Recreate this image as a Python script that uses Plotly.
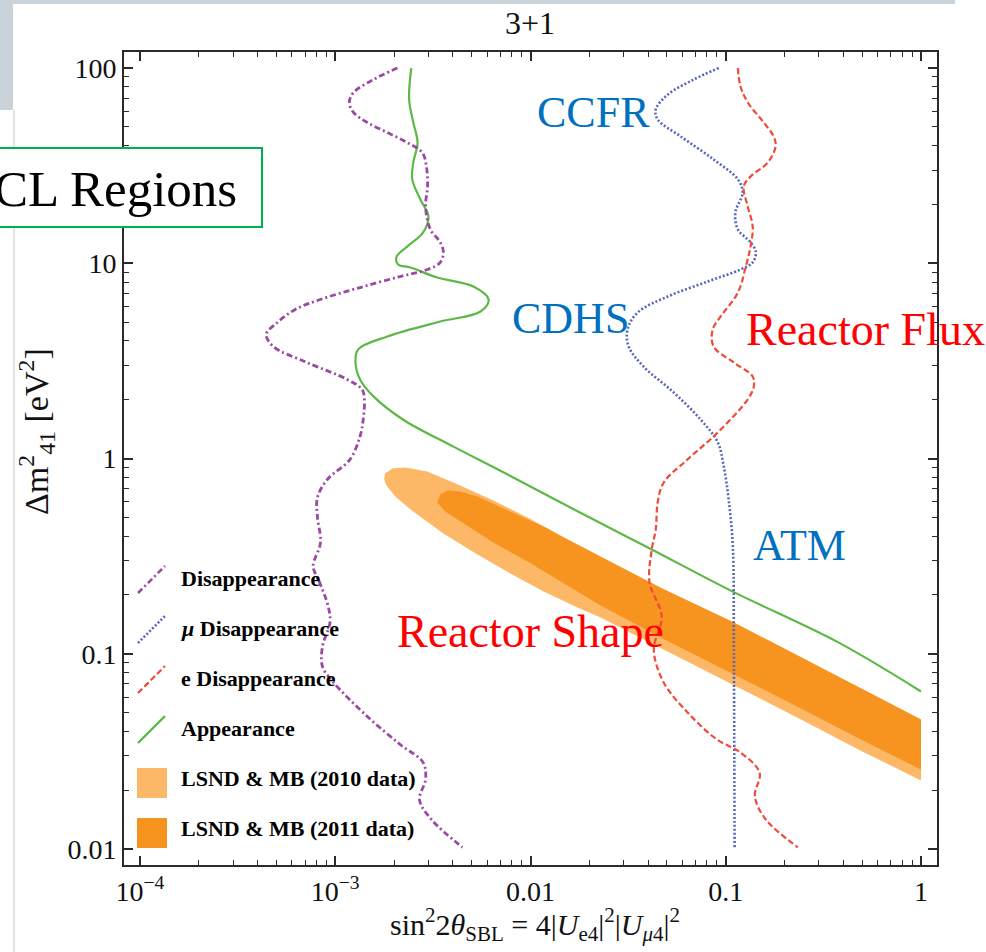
import plotly.graph_objects as go

# ---- exclusion / allowed-region curves: (sin^2 2theta, dm^2 [eV^2]) ----
nu_dis_x = [2.08e-3, 1.57e-3, 1.24e-3, 1.18e-3, 1.24e-3, 1.46e-3, 1.85e-3, 2.34e-3,
            2.79e-3, 2.93e-3, 2.97e-3, 2.90e-3, 3.07e-3, 3.45e-3, 3.58e-3, 3.45e-3,
            2.97e-3, 2.15e-3, 1.34e-3, 8.37e-4, 6.24e-4, 5.05e-4, 4.43e-4, 4.81e-4,
            7.18e-4, 1.15e-3, 1.37e-3, 1.41e-3, 1.39e-3, 1.34e-3, 1.19e-3, 9.1e-4,
            8.1e-4, 8.1e-4, 8.4e-4, 7.7e-4, 8.2e-4, 9.2e-4, 9.4e-4, 8.6e-4, 8.6e-4,
            9.8e-4, 1.46e-3, 2.15e-3, 2.82e-3, 2.90e-3, 2.70e-3, 3.10e-3, 4.48e-3]
nu_dis_y = [100, 87.3, 74.9, 66.6, 59.2, 52.6, 46.7, 41.5,
            36.9, 31.3, 24.7, 19.5, 14.9, 12.8, 11.4, 10.1,
            9.29, 8.55, 7.51, 6.52, 5.80, 4.97, 4.32, 3.75,
            3.10, 2.54, 2.26, 2.01, 1.58, 1.30, 0.99, 0.78,
            0.63, 0.505, 0.371, 0.280, 0.240, 0.175, 0.145, 0.109, 0.086,
            0.0713, 0.0477, 0.0343, 0.0277, 0.0227, 0.0179, 0.0142, 0.0102]

mu_dis_x = [0.092, 0.0686, 0.0505, 0.0438, 0.0448, 0.0588, 0.0867, 0.1154,
            0.122, 0.112, 0.1154, 0.134, 0.1426, 0.1374, 0.119, 0.081,
            0.0505, 0.0354, 0.0314, 0.0318, 0.0379, 0.0541, 0.0745, 0.091,
            0.0977, 0.1035, 0.1087, 0.110, 0.111]
mu_dis_y = [100, 87.3, 73.1, 61.3, 54.5, 44.6, 34.0, 26.9,
            23.0, 18.2, 14.9, 12.8, 11.4, 10.1, 9.29, 8.07,
            6.76, 5.60, 4.58, 3.75, 2.96, 2.18, 1.58, 1.21,
            0.91, 0.617, 0.354, 0.105, 0.0102]

e_dis_x = [0.1154, 0.119, 0.1297, 0.155, 0.176, 0.180, 0.164, 0.134,
           0.1236, 0.1297, 0.1374, 0.134, 0.1267, 0.1154, 0.0942, 0.0857,
           0.0866, 0.110, 0.1374, 0.1393, 0.1297, 0.091, 0.0638, 0.0481,
           0.0448, 0.0438, 0.0418, 0.0407, 0.047, 0.0428, 0.0481, 0.0638,
           0.090, 0.119, 0.149, 0.141, 0.160, 0.234]
e_dis_y = [100, 80.4, 66.6, 53.2, 44.6, 39.6, 32.8, 27.8,
           24.7, 19.5, 15.4, 12.2, 9.62, 7.08, 5.34, 4.58,
           3.75, 3.10, 2.63, 2.34, 2.01, 1.36, 0.99, 0.753,
           0.595, 0.433, 0.342, 0.232, 0.155, 0.105, 0.0713, 0.050,
           0.0364, 0.0312, 0.0246, 0.0186, 0.0142, 0.0102]

app_x = [2.45e-3, 2.39e-3, 2.51e-3, 2.64e-3, 2.51e-3, 2.48e-3, 2.73e-3, 3.0e-3,
         2.82e-3, 2.34e-3, 2.06e-3, 2.10e-3, 2.43e-3, 3.33e-3, 5.1e-3, 6.1e-3,
         5.55e-3, 3.45e-3, 1.85e-3, 1.31e-3, 1.27e-3, 1.34e-3, 1.57e-3, 2.23e-3,
         4.03e-3, 7.3e-3, 0.0160, 0.0418, 0.1087, 0.379, 1.0]
app_y = [100, 69.0, 52.6, 41.5, 32.8, 26.9, 21.2, 17.4,
         14.4, 12.2, 10.8, 9.86, 9.51, 8.45, 7.60, 6.52,
         5.66, 5.03, 4.22, 3.62, 3.10, 2.54, 2.08, 1.58,
         1.15, 0.848, 0.561, 0.342, 0.208, 0.114, 0.0641]

# ---- LSND & MiniBooNE allowed regions (closed contours) ----
lsnd2010_x = [1.80e-3, 1.96e-3, 2.29e-3, 2.96e-3, 4.37e-3, 6.45e-3, 9.66e-3, 0.01426,
              0.02286, 0.0464, 0.110, 0.2427, 0.492, 1.0,
              1.0, 0.492, 0.2427, 0.110, 0.0464, 0.02286, 0.01742, 0.01167,
              7.88e-3, 5.35e-3, 3.58e-3, 2.43e-3, 2.03e-3, 1.83e-3, 1.78e-3]
lsnd2010_y = [0.838, 0.889, 0.899, 0.858, 0.727, 0.609, 0.499, 0.403,
              0.315, 0.218, 0.1445, 0.0957, 0.0664, 0.0461,
              0.02244, 0.0319, 0.0461, 0.0688, 0.1064, 0.1534, 0.1726, 0.2084,
              0.2576, 0.3224, 0.413, 0.548, 0.639, 0.727, 0.780]

lsnd2011_x = [3.33e-3, 3.45e-3, 3.75e-3, 4.37e-3, 5.35e-3, 7.88e-3, 0.01194, 0.01426,
              0.02286, 0.0464, 0.110, 0.2427, 0.492, 1.0,
              1.0, 0.492, 0.2427, 0.110, 0.0464, 0.02286, 0.01426, 9.66e-3,
              6.45e-3, 4.37e-3, 3.66e-3]
lsnd2011_y = [0.595, 0.654, 0.686, 0.678, 0.639, 0.535, 0.443, 0.401,
              0.315, 0.218, 0.1445, 0.0957, 0.0664, 0.0461,
              0.0255, 0.0364, 0.0525, 0.0783, 0.121, 0.1767, 0.2344, 0.2967,
              0.3714, 0.4758, 0.535]

# ---- axis ticks and text ----
x_tickvals = [1e-4, 1e-3, 1e-2, 1e-1, 1]
x_ticktext = ["10<sup>\u22124</sup>", "10<sup>\u22123</sup>", "0.01", "0.1", "1"]
y_tickvals = [0.01, 0.1, 1, 10, 100]
y_ticktext = ["0.01", "0.1", "1", "10", "100"]

legend_labels = ["Disappearance", "<i>\u03bc</i> Disappearance", "e Disappearance",
                 "Appearance", "LSND &amp; MB (2010 data)", "LSND &amp; MB (2011 data)"]

PURPLE = "#9b4aa3"
BLUE = "#5866be"
RED = "#f04a38"
GREEN = "#5db846"
LIGHT_OR = "#fcb866"
DARK_OR = "#f6941f"
FONT = "Liberation Serif"
INK = "#111111"

# page geometry (pixels) of the plotting frame
W, H = 986, 952
L, T, PW, PH = 124, 52, 813, 813


def px(x):
    return (x - L) / PW


def py(y):
    return (T + PH - y) / PH


fig = go.Figure()

fig.add_trace(go.Scatter(x=lsnd2010_x, y=lsnd2010_y, mode="lines", fill="toself",
                         fillcolor=LIGHT_OR, line=dict(width=0, color=LIGHT_OR),
                         hoverinfo="skip", showlegend=False))
fig.add_trace(go.Scatter(x=lsnd2011_x, y=lsnd2011_y, mode="lines", fill="toself",
                         fillcolor=DARK_OR, line=dict(width=0, color=DARK_OR),
                         hoverinfo="skip", showlegend=False))

fig.add_trace(go.Scatter(x=app_x, y=app_y, mode="lines",
                         line=dict(color=GREEN, width=2.2, shape="spline", smoothing=1.0),
                         showlegend=False))
fig.add_trace(go.Scatter(x=nu_dis_x, y=nu_dis_y, mode="lines",
                         line=dict(color=PURPLE, width=2.8, shape="spline", smoothing=1.0,
                                   dash="6px,3px,2px,3px"),
                         showlegend=False))
fig.add_trace(go.Scatter(x=mu_dis_x, y=mu_dis_y, mode="lines",
                         line=dict(color=BLUE, width=2.6, shape="spline", smoothing=1.0,
                                   dash="2px,2px"),
                         showlegend=False))
fig.add_trace(go.Scatter(x=e_dis_x, y=e_dis_y, mode="lines",
                         line=dict(color=RED, width=2.2, shape="spline", smoothing=1.0,
                                   dash="6px,3px"),
                         showlegend=False))

minor_x = [m * 10.0 ** e for e in range(-4, 0) for m in range(2, 10)]
minor_y = [m * 10.0 ** e for e in range(-2, 2) for m in range(2, 10)]

axis_common = dict(
    type="log", showgrid=False, zeroline=False, showline=True, linecolor="#2a2a2a",
    linewidth=1.8, mirror="allticks", ticks="inside", ticklen=9, tickwidth=1.5,
    tickcolor="#2a2a2a", tickfont=dict(family=FONT, size=28, color=INK),
)
fig.update_xaxes(range=[-4.082, 0.082], tickvals=x_tickvals, ticktext=x_ticktext,
                 minor=dict(tickvals=minor_x, ticks="inside", ticklen=5, tickwidth=1.3,
                            tickcolor="#2a2a2a", showgrid=False),
                 **axis_common)
fig.update_yaxes(range=[-2.082, 2.082], tickvals=y_tickvals, ticktext=y_ticktext,
                 minor=dict(tickvals=minor_y, ticks="inside", ticklen=5, tickwidth=1.3,
                            tickcolor="#2a2a2a", showgrid=False),
                 **axis_common)

shapes = []
annotations = []

# slide background pieces around the figure
shapes.append(dict(type="rect", xref="paper", yref="paper", x0=px(0), x1=px(13),
                   y0=py(0), y1=py(110), fillcolor="#c9d3d9", line=dict(width=0),
                   layer="above"))
shapes.append(dict(type="rect", xref="paper", yref="paper", x0=px(0), x1=px(955),
                   y0=py(0), y1=py(4), fillcolor="#c9d3d9", line=dict(width=0),
                   layer="above"))
shapes.append(dict(type="line", xref="paper", yref="paper", x0=px(14), x1=px(14),
                   y0=py(110), y1=py(952), line=dict(color="#e4e4e4", width=2),
                   layer="above"))

# "CL Regions" call-out box
shapes.append(dict(type="rect", xref="paper", yref="paper", x0=px(-10), x1=px(262),
                   y0=py(148), y1=py(227), fillcolor="white",
                   line=dict(color="#00b050", width=2), layer="above"))
annotations.append(dict(text="CL Regions", xref="paper", yref="paper", x=px(239),
                        y=py(189), xanchor="right", yanchor="middle", showarrow=False,
                        font=dict(family=FONT, size=51, color="black")))

# legend (drawn inside the frame, lower left)
legend_rows = [578, 628, 678, 728, 778, 828]
line_styles = [(PURPLE, "6px,3px,2px,3px", 2.6), (BLUE, "2px,2px", 2.6),
               (RED, "6px,3px", 2.2), (GREEN, "solid", 2.4)]
for row, (col, dash, wd) in zip(legend_rows[:4], line_styles):
    shapes.append(dict(type="line", xref="paper", yref="paper", x0=px(138), x1=px(165),
                       y0=py(row + 15), y1=py(row - 12), line=dict(color=col, width=wd, dash=dash),
                       layer="above"))
for row, col in zip(legend_rows[4:], [LIGHT_OR, DARK_OR]):
    shapes.append(dict(type="rect", xref="paper", yref="paper", x0=px(137), x1=px(167),
                       y0=py(row + 20), y1=py(row - 10), fillcolor=col, line=dict(width=0),
                       layer="above"))
for row, lab in zip(legend_rows, legend_labels):
    annotations.append(dict(text="<b>" + lab + "</b>", xref="paper", yref="paper", x=px(179),
                            y=py(row), xanchor="left", yanchor="middle", showarrow=False,
                            font=dict(family=FONT, size=22, color="black")))

# experiment labels
labels = [("CCFR", 593, 112, "#0070c0", 44), ("CDHS", 570, 318, "#0070c0", 44),
          ("Reactor Flux", 865, 329, "#ff0000", 46), ("ATM", 799, 545, "#0070c0", 44),
          ("Reactor Shape", 530, 631, "#ff0000", 46)]
for txt, cx, cy, col, sz in labels:
    annotations.append(dict(text=txt, xref="paper", yref="paper", x=px(cx), y=py(cy),
                            xanchor="center", yanchor="middle", showarrow=False,
                            font=dict(family=FONT, size=sz, color=col)))

# title and axis labels
annotations.append(dict(text="3+1", xref="paper", yref="paper", x=px(530), y=py(23),
                        xanchor="center", yanchor="middle", showarrow=False,
                        font=dict(family=FONT, size=32, color=INK)))
annotations.append(dict(
    text="sin<sup>2</sup>2<i>\u03b8</i><sub>SBL</sub> = 4|<i>U</i><sub>e4</sub>|<sup>2</sup>|<i>U</i><sub><i>\u03bc</i>4</sub>|<sup>2</sup>",
    xref="paper", yref="paper", x=px(535), y=py(925), xanchor="center", yanchor="middle",
    showarrow=False, font=dict(family=FONT, size=30, color=INK)))
annotations.append(dict(
    text="\u0394m<sup>2</sup><sub>41</sub> [eV<sup>2</sup>]",
    xref="paper", yref="paper", x=px(36), y=py(432), xanchor="center", yanchor="middle",
    textangle=-90, showarrow=False, font=dict(family=FONT, size=34, color=INK)))

fig.update_layout(
    width=W, height=H, autosize=False,
    margin=dict(l=L, r=W - L - PW, t=T, b=H - T - PH),
    paper_bgcolor="white", plot_bgcolor="white",
    shapes=shapes, annotations=annotations, showlegend=False,
)

fig.write_html("out.html")
